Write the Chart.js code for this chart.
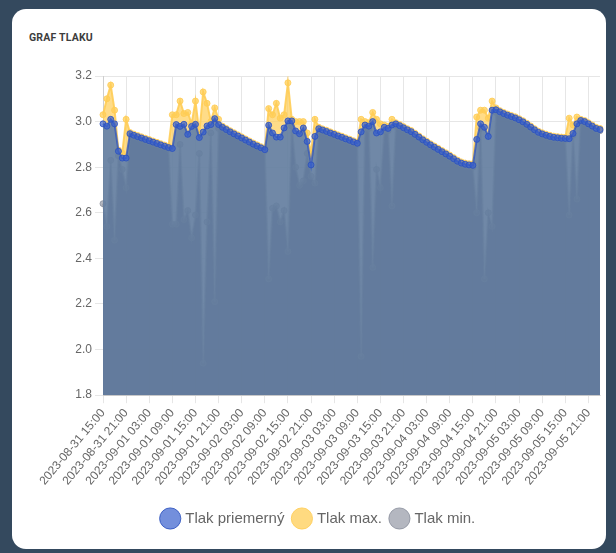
<!DOCTYPE html>
<html>
<head>
<meta charset="utf-8">
<script src="https://cdn.jsdelivr.net/npm/chart.js@4.4.0/dist/chart.umd.min.js"></script>
<style>
    html, body { margin: 0; padding: 0; }
    body { width: 616px; height: 553px; background: #34495e; position: relative; overflow: hidden; }
    .card { position: absolute; left: 12px; top: 9px; width: 594px; height: 540px; background: #fff; border-radius: 14px; }
    .title { position: absolute; left: 29px; top: 31px; font-family: "Liberation Sans Narrow", "Roboto", sans-serif; font-weight: bold; font-size: 10.5px; color: #3d3d3d; letter-spacing: 0.2px; }
    .chart-box { position: absolute; left: 12px; top: 55px; width: 594px; height: 490px; }
</style>
</head>
<body>
<div class="card"></div>
<div class="title">GRAF TLAKU</div>
<div class="chart-box"><canvas id="chart"></canvas></div>
<script>
const labels = [
    '2023-08-31 15:00', '2023-08-31 16:00', '2023-08-31 17:00', '2023-08-31 18:00', '2023-08-31 19:00', '2023-08-31 20:00',
    '2023-08-31 21:00', '2023-08-31 22:00', '2023-08-31 23:00',
    '2023-09-01 00:00', '2023-09-01 01:00', '2023-09-01 02:00', '2023-09-01 03:00', '2023-09-01 04:00', '2023-09-01 05:00',
    '2023-09-01 06:00', '2023-09-01 07:00', '2023-09-01 08:00', '2023-09-01 09:00', '2023-09-01 10:00', '2023-09-01 11:00',
    '2023-09-01 12:00', '2023-09-01 13:00', '2023-09-01 14:00', '2023-09-01 15:00', '2023-09-01 16:00', '2023-09-01 17:00',
    '2023-09-01 18:00', '2023-09-01 19:00', '2023-09-01 20:00', '2023-09-01 21:00', '2023-09-01 22:00', '2023-09-01 23:00',
    '2023-09-02 00:00', '2023-09-02 01:00', '2023-09-02 02:00', '2023-09-02 03:00', '2023-09-02 04:00', '2023-09-02 05:00',
    '2023-09-02 06:00', '2023-09-02 07:00', '2023-09-02 08:00', '2023-09-02 09:00', '2023-09-02 10:00', '2023-09-02 11:00',
    '2023-09-02 12:00', '2023-09-02 13:00', '2023-09-02 14:00', '2023-09-02 15:00', '2023-09-02 16:00', '2023-09-02 17:00',
    '2023-09-02 18:00', '2023-09-02 19:00', '2023-09-02 20:00', '2023-09-02 21:00', '2023-09-02 22:00', '2023-09-02 23:00',
    '2023-09-03 00:00', '2023-09-03 01:00', '2023-09-03 02:00', '2023-09-03 03:00', '2023-09-03 04:00', '2023-09-03 05:00',
    '2023-09-03 06:00', '2023-09-03 07:00', '2023-09-03 08:00', '2023-09-03 09:00', '2023-09-03 10:00', '2023-09-03 11:00',
    '2023-09-03 12:00', '2023-09-03 13:00', '2023-09-03 14:00', '2023-09-03 15:00', '2023-09-03 16:00', '2023-09-03 17:00',
    '2023-09-03 18:00', '2023-09-03 19:00', '2023-09-03 20:00', '2023-09-03 21:00', '2023-09-03 22:00', '2023-09-03 23:00',
    '2023-09-04 00:00', '2023-09-04 01:00', '2023-09-04 02:00', '2023-09-04 03:00', '2023-09-04 04:00', '2023-09-04 05:00',
    '2023-09-04 06:00', '2023-09-04 07:00', '2023-09-04 08:00', '2023-09-04 09:00', '2023-09-04 10:00', '2023-09-04 11:00',
    '2023-09-04 12:00', '2023-09-04 13:00', '2023-09-04 14:00', '2023-09-04 15:00', '2023-09-04 16:00', '2023-09-04 17:00',
    '2023-09-04 18:00', '2023-09-04 19:00', '2023-09-04 20:00', '2023-09-04 21:00', '2023-09-04 22:00', '2023-09-04 23:00',
    '2023-09-05 00:00', '2023-09-05 01:00', '2023-09-05 02:00', '2023-09-05 03:00', '2023-09-05 04:00', '2023-09-05 05:00',
    '2023-09-05 06:00', '2023-09-05 07:00', '2023-09-05 08:00', '2023-09-05 09:00', '2023-09-05 10:00', '2023-09-05 11:00',
    '2023-09-05 12:00', '2023-09-05 13:00', '2023-09-05 14:00', '2023-09-05 15:00', '2023-09-05 16:00', '2023-09-05 17:00',
    '2023-09-05 18:00', '2023-09-05 19:00', '2023-09-05 20:00', '2023-09-05 21:00', '2023-09-05 22:00', '2023-09-05 23:00',
    '2023-09-06 00:00'
];

// Tlak priemerny
const avgPressure = [
    2.99, 2.98, 3.01, 2.99, 2.87, 2.84, 2.84, 2.947, 2.94, 2.934,
    2.928, 2.922, 2.916, 2.91, 2.904, 2.898, 2.892, 2.886, 2.882, 2.987,
    2.979, 2.988, 2.944, 2.979, 2.988, 2.93, 2.954, 2.981, 2.987, 3.013,
    2.987, 2.975, 2.965, 2.955, 2.946, 2.937, 2.928, 2.919, 2.91, 2.901,
    2.893, 2.885, 2.877, 2.984, 2.95, 2.932, 2.932, 2.972, 3.003, 3.003,
    2.959, 2.947, 2.972, 2.913, 2.81, 2.935, 2.969, 2.963, 2.957, 2.95,
    2.944, 2.937, 2.931, 2.924, 2.918, 2.911, 2.905, 2.955, 2.985, 2.98,
    3.0, 2.95, 2.955, 2.975, 2.97, 2.985, 2.99, 2.982, 2.973, 2.964,
    2.956, 2.944, 2.932, 2.92, 2.909, 2.898, 2.888, 2.878, 2.868, 2.858,
    2.848, 2.837, 2.826, 2.818, 2.813, 2.81, 2.808, 2.922, 2.99, 2.975,
    2.935, 3.05, 3.052, 3.043, 3.035, 3.028, 3.022, 3.016, 3.008, 2.999,
    2.988, 2.976, 2.964, 2.953, 2.946, 2.94, 2.935, 2.931, 2.929, 2.927,
    2.926, 2.925, 2.948, 2.99, 3.005, 3.0, 2.99, 2.98, 2.97, 2.965
];

// Tlak max.
const maxPressure = [
    3.03, 3.10, 3.16, 3.05, 2.875, 2.862, 3.01, 2.952, 2.945, 2.939,
    2.933, 2.927, 2.921, 2.915, 2.909, 2.903, 2.897, 2.891, 3.03, 3.03,
    3.09, 3.035, 3.04, 2.99, 3.09, 2.95, 3.13, 3.08, 3.0, 3.06,
    3.01, 2.98, 2.97, 2.96, 2.951, 2.942, 2.933, 2.924, 2.915, 2.906,
    2.898, 2.89, 2.882, 3.057, 3.03, 3.08, 3.015, 3.03, 3.17, 3.01,
    3.0, 3.0, 3.0, 2.95, 2.86, 3.01, 2.975, 2.968, 2.962, 2.955,
    2.949, 2.942, 2.936, 2.929, 2.923, 2.916, 2.91, 3.01, 3.0, 2.995,
    3.04, 3.01, 2.99, 2.985, 2.98, 3.01, 2.995, 2.987, 2.978, 2.969,
    2.961, 2.949, 2.937, 2.925, 2.914, 2.903, 2.893, 2.883, 2.873, 2.863,
    2.853, 2.842, 2.831, 2.823, 2.818, 2.815, 2.815, 3.02, 3.05, 3.05,
    3.015, 3.09, 3.06, 3.048, 3.04, 3.033, 3.027, 3.021, 3.013, 3.004,
    2.993, 2.981, 2.969, 2.958, 2.951, 2.945, 2.94, 2.936, 2.934, 2.932,
    2.931, 3.015, 2.985, 3.02, 3.01, 3.005, 2.995, 2.985, 2.975, 2.97
];

// Tlak min.
const minPressure = [
    2.64, 2.54, 2.83, 2.48, 2.85, 2.79, 2.71, 2.942, 2.935, 2.929,
    2.923, 2.917, 2.911, 2.905, 2.899, 2.893, 2.887, 2.881, 2.55, 2.55,
    2.9, 2.57, 2.61, 2.49, 2.59, 2.86, 1.94, 2.56, 2.95, 2.21,
    2.97, 2.97, 2.96, 2.95, 2.941, 2.932, 2.923, 2.914, 2.905, 2.896,
    2.888, 2.88, 2.872, 2.31, 2.62, 2.63, 2.56, 2.61, 2.43, 2.98,
    2.80, 2.72, 2.74, 2.86, 2.76, 2.73, 2.96, 2.958, 2.952, 2.945,
    2.939, 2.932, 2.926, 2.919, 2.913, 2.906, 2.90, 1.97, 2.97, 2.97,
    2.36, 2.79, 2.71, 2.96, 2.96, 2.63, 2.98, 2.977, 2.968, 2.959,
    2.951, 2.939, 2.927, 2.915, 2.904, 2.893, 2.883, 2.873, 2.863, 2.853,
    2.843, 2.832, 2.821, 2.813, 2.808, 2.805, 2.80, 2.60, 2.97, 2.31,
    2.60, 2.54, 3.04, 3.038, 3.03, 3.023, 3.017, 3.011, 3.003, 2.994,
    2.983, 2.971, 2.959, 2.948, 2.941, 2.935, 2.93, 2.926, 2.924, 2.922,
    2.921, 2.59, 2.94, 2.66, 3.0, 2.995, 2.985, 2.975, 2.965, 2.96
];

const yMin = 1.8;
const yMax = 3.2;
const yStep = 0.2;
const labelEvery = 6;

const ctx = document.getElementById('chart').getContext('2d');
new Chart(ctx, {
    type: 'line',
    data: {
        labels: labels,
        datasets: [
            {
                label: 'Tlak priemerný',
                data: avgPressure,
                fill: 'origin',
                backgroundColor: 'rgba(64, 108, 178, 0.75)',
                borderColor: 'rgba(50, 88, 190, 0.8)',
                borderWidth: 2,
                pointBackgroundColor: 'rgba(55, 95, 205, 0.7)',
                pointBorderColor: 'rgba(45, 82, 190, 0.85)',
                pointBorderWidth: 1,
                pointRadius: 3
            },
            {
                label: 'Tlak max.',
                data: maxPressure,
                fill: 'origin',
                backgroundColor: 'rgba(255, 205, 86, 0.7)',
                borderColor: 'rgba(255, 205, 86, 0.9)',
                borderWidth: 2,
                pointBackgroundColor: 'rgba(255, 205, 86, 0.75)',
                pointBorderColor: 'rgba(255, 205, 86, 0.85)',
                pointBorderWidth: 1,
                pointRadius: 3
            },
            {
                label: 'Tlak min.',
                data: minPressure,
                fill: 'origin',
                backgroundColor: 'rgba(39, 39, 81, 0.8)',
                borderColor: 'rgba(140, 145, 160, 0.6)',
                borderWidth: 2,
                pointBackgroundColor: 'rgba(130, 135, 150, 0.6)',
                pointBorderColor: 'rgba(130, 135, 150, 0.7)',
                pointBorderWidth: 1,
                pointRadius: 3
            }
        ]
    },
    options: {
        responsive: true,
        maintainAspectRatio: false,
        animation: false,
        layout: {
            padding: { left: 26, right: 6, top: 21, bottom: 9 }
        },
        elements: {
            line: { tension: 0 }
        },
        scales: {
            x: {
                grid: { color: '#e6e6e6' },
                afterFit: function (scale) {
                    scale.height += 10;
                },
                ticks: {
                    autoSkip: false,
                    minRotation: 50,
                    maxRotation: 50,
                    color: '#666',
                    font: { size: 12 },
                    callback: function (value, index) {
                        return index % labelEvery === 0 ? this.getLabelForValue(value) : null;
                    }
                }
            },
            y: {
                min: yMin,
                max: yMax,
                grid: { color: '#e6e6e6' },
                afterFit: function (scale) {
                    scale.width = 65;
                },
                ticks: {
                    stepSize: yStep,
                    color: '#666',
                    font: { size: 12 },
                    callback: function (value) {
                        return value.toFixed(1);
                    }
                }
            }
        },
        plugins: {
            legend: {
                position: 'bottom',
                labels: {
                    usePointStyle: true,
                    color: '#666',
                    font: { size: 15 }
                }
            },
            tooltip: { enabled: false }
        }
    }
});
</script>
</body>
</html>
